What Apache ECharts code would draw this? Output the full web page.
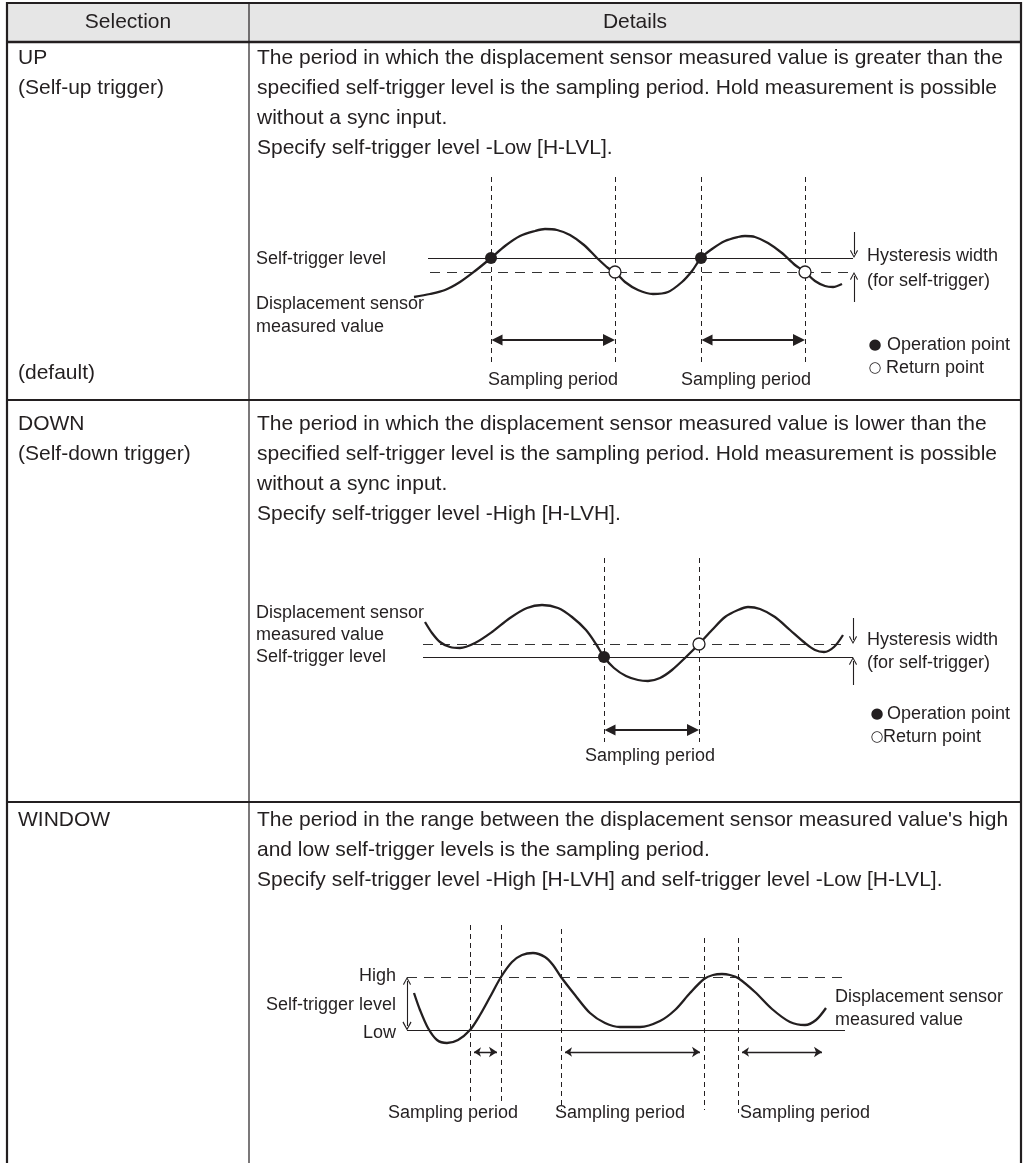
<!DOCTYPE html>
<html>
<head>
<meta charset="utf-8">
<script src="https://cdn.jsdelivr.net/npm/echarts@6/dist/echarts.min.js"></script>
<style>
html,body{margin:0;padding:0;background:#fff;}
#chart{width:1024px;height:1163px;}
</style>
</head>
<body>
<div id="chart"></div>
<script>
// ---------------- text content ----------------
const headers = ['Selection', 'Details'];
const upSelection = ['UP', '(Self-up trigger)'];
const upNote = '(default)';
const upDetails = [
  'The period in which the displacement sensor measured value is greater than the',
  'specified self-trigger level is the sampling period. Hold measurement is possible',
  'without a sync input.',
  'Specify self-trigger level -Low [H-LVL].'
];
const downSelection = ['DOWN', '(Self-down trigger)'];
const downDetails = [
  'The period in which the displacement sensor measured value is lower than the',
  'specified self-trigger level is the sampling period. Hold measurement is possible',
  'without a sync input.',
  'Specify self-trigger level -High [H-LVH].'
];
const windowSelection = ['WINDOW'];
const windowDetails = [
  "The period in the range between the displacement sensor measured value's high",
  'and low self-trigger levels is the sampling period.',
  'Specify self-trigger level -High [H-LVH] and self-trigger level -Low [H-LVL].'
];
const labelSelfTrigger = 'Self-trigger level';
const labelSensor = ['Displacement sensor', 'measured value'];
const labelHysteresis = ['Hysteresis width', '(for self-trigger)'];
const labelSampling = 'Sampling period';
const legendGlyphs = ['\u25CF', '\u25CB'];
const legendLabels = ['Operation point', 'Return point'];
const labelHigh = 'High';
const labelLow = 'Low';

// ---------------- diagram data (x: time, y: level) ----------------
// UP diagram
const upCurve = [[14,103],[30,106],[45,110],[60,118],[75,129],[91,142],[105,154],[120,164],[135,169],[145,171],[157,170],[170,165],[184,155],[197,142],[208,132],[215,128],[225,118],[238,110],[253,106],[268,108],[282,118],[292,129],[301,142],[312,151],[325,159],[338,163],[345,164],[355,163],[368,157],[382,147],[395,135],[405,128],[415,119],[425,114],[433,113],[442,116]];
const upLevel = 142;          // self-trigger level
const upHysteresis = 128;     // level minus hysteresis
const upLevelSpan = [28, 453];
const upHystSpan = [30, 450];
const upOperation = [[91,142],[301,142]];
const upReturn = [[215,128],[405,128]];
const upSampling = [[91,215],[301,405]];

// DOWN diagram
const downCurve = [[25,158],[32,147],[40,138],[50,133],[60,132],[75,137],[92,148],[110,162],[127,172],[142,175],[158,172],[172,163],[186,150],[196,136],[204,123],[214,112],[226,104],[238,100],[248,99],[260,102],[272,110],[286,123],[299,136],[312,150],[325,163],[338,170],[348,173],[360,171],[375,163],[390,150],[405,137],[415,130],[424,128],[434,133],[443,145]];
const downLevel = 123;
const downHysteresis = 136;
const downLevelSpan = [23, 453];
const downHystSpan = [23, 447];
const downOperation = [[204,123]];
const downReturn = [[299,136]];
const downSampling = [[204,299]];

// WINDOW diagram
const windowCurve = [[14,147],[20,130],[28,112],[37,100],[47,97],[58,100],[70,110],[80,125],[90,143],[101,163],[112,178],[122,185],[133,187],[145,183],[153,175],[161,163],[175,145],[190,127],[205,117],[220,113],[240,113],[260,119],[275,130],[290,147],[304,161],[313,165],[322,166],[330,165],[338,162],[355,148],[372,131],[390,118],[405,115],[416,120],[426,132]];
const windowHigh = 163;
const windowLow = 110;
const windowHighSpan = [7, 443];
const windowLowSpan = [7, 445];
const windowGuides = [70, 101, 161, 304, 338];
const windowSampling = [[70,101],[161,304],[338,426]];

// ---------------- layout ----------------
const INK = '#231f20';
const FONT = "'Liberation Sans', Arial, Helvetica, sans-serif";
const SYMFONT = "'DejaVu Sans', sans-serif";
const BODY = 21, SMALL = 18, LINE = 30;
const X_LEFT = 7, X_RIGHT = 1021, X_COL = 249, Y_TOP = 3, Y_HEAD = 42, Y_ROW1 = 400, Y_ROW2 = 802, Y_END = 1163;
const SEL_X = 18, DET_X = 257;
const ROW_Y = [58, 424, 820];

const grids = [
  {left: 400, top: 160, width: 480, height: 240},
  {left: 400, top: 540, width: 480, height: 240},
  {left: 400, top: 910, width: 480, height: 230}
];

const CHEVRON = 'path://M5,0 L10,9 L8.9,10 L5,2.4 L1.1,10 L0,9 Z';

function txt(x, y, s, size, align, font) {
  return {type: 'text', silent: true, z: 20, style: {
    text: s, x: x, y: y, font: size + 'px ' + (font || FONT), fill: INK,
    textAlign: align || 'left', textVerticalAlign: 'middle',
    align: align || 'left', verticalAlign: 'middle'}};
}
function hl(x1, x2, y, w) { return {type: 'line', silent: true, z: 15, shape: {x1: x1, y1: y, x2: x2, y2: y}, style: {stroke: INK, lineWidth: w}}; }
function vl(x, y1, y2, w) { return {type: 'line', silent: true, z: 15, shape: {x1: x, y1: y1, x2: x, y2: y2}, style: {stroke: INK, lineWidth: w}}; }

// shorten a segment so that an end symbol's tip lands on the end point
function trim(seg, a, b) {
  const [p, q] = seg;
  const dx = q[0] - p[0], dy = q[1] - p[1];
  const len = Math.hypot(dx, dy);
  const ux = dx / len, uy = dy / len;
  return [[p[0] + ux * a, p[1] + uy * a], [q[0] - ux * b, q[1] - uy * b]];
}

function linesSeries(gi, segs, opts) {
  return Object.assign({
    type: 'lines', coordinateSystem: 'cartesian2d', xAxisIndex: gi, yAxisIndex: gi,
    polyline: false, silent: true, animation: false, z: 2,
    symbol: ['none', 'none'], symbolSize: 10,
    lineStyle: {color: INK, width: 1, opacity: 1, curveness: 0},
    data: segs.map(c => ({coords: c}))
  }, opts);
}

function curveSeries(gi, data) {
  return {type: 'line', xAxisIndex: gi, yAxisIndex: gi, data: data, smooth: 0.3,
    showSymbol: false, symbol: 'none', silent: true, animation: false, z: 3,
    lineStyle: {color: INK, width: 2.3}};
}
function dotSeries(gi, data, filled) {
  return {type: 'scatter', xAxisIndex: gi, yAxisIndex: gi, data: data, symbol: 'circle',
    symbolSize: 12, silent: true, animation: false, z: 6,
    itemStyle: filled ? {color: INK, opacity: 1} : {color: '#fff', borderColor: INK, borderWidth: 1.3, opacity: 1}};
}

const VDASH = [5, 4];
const HDASH = [10, 7];
const SOLID = {color: INK, width: 1.2, opacity: 1};
const DASHED_H = {color: '#333333', width: 1.2, opacity: 1, type: HDASH};
const DASHED_V = {color: INK, width: 1, opacity: 1, type: VDASH};

// vertical guide lines sit at the operation / return times
const upGuides = [upOperation[0][0], upReturn[0][0], upOperation[1][0], upReturn[1][0]];
const downGuides = [downOperation[0][0], downReturn[0][0]];
const windowGuideTop = [215, 215, 211, 202, 202];
const windowGuideBottom = [38, 38, 30, 30, 27];

const series = [];
// ---- UP ----
series.push(linesSeries(0, upGuides.map(x => [[x, 223], [x, 34]]), {lineStyle: DASHED_V}));
series.push(linesSeries(0, [[[upLevelSpan[0], upLevel], [upLevelSpan[1], upLevel]]], {lineStyle: SOLID}));
series.push(linesSeries(0, [[[upHystSpan[0], upHysteresis], [upHystSpan[1], upHysteresis]]], {lineStyle: DASHED_H}));
series.push(curveSeries(0, upCurve));
series.push(linesSeries(0, upSampling.map(s => trim([[s[0], 60], [s[1], 60]], 6, 6)), {symbol: ['triangle', 'triangle'], symbolSize: [11, 12], lineStyle: {color: INK, width: 2, opacity: 1}, z: 4}));
series.push(linesSeries(0, [trim([[454, 168], [454, upLevel]], 0, 4), trim([[454, 98], [454, upHysteresis]], 0, 4)], {symbol: ['none', CHEVRON], symbolSize: [9, 8], lineStyle: {color: INK, width: 1.1, opacity: 1}}));
series.push(dotSeries(0, upOperation, true));
series.push(dotSeries(0, upReturn, false));

// ---- DOWN ----
series.push(linesSeries(1, downGuides.map(x => [[x, 222], [x, 38]]), {lineStyle: DASHED_V}));
series.push(linesSeries(1, [[[downLevelSpan[0], downLevel], [downLevelSpan[1], downLevel]]], {lineStyle: SOLID}));
series.push(linesSeries(1, [[[downHystSpan[0], downHysteresis], [downHystSpan[1], downHysteresis]]], {lineStyle: DASHED_H}));
series.push(curveSeries(1, downCurve));
series.push(linesSeries(1, downSampling.map(s => trim([[s[0], 50], [s[1], 50]], 6, 6)), {symbol: ['triangle', 'triangle'], symbolSize: [11, 12], lineStyle: {color: INK, width: 2, opacity: 1}, z: 4}));
series.push(linesSeries(1, [trim([[453, 162], [453, downHysteresis]], 0, 4), trim([[453, 95], [453, downLevel]], 0, 4)], {symbol: ['none', CHEVRON], symbolSize: [9, 8], lineStyle: {color: INK, width: 1.1, opacity: 1}}));
series.push(dotSeries(1, downOperation, true));
series.push(dotSeries(1, downReturn, false));

// ---- WINDOW ----
series.push(linesSeries(2, windowGuides.map((x, i) => [[x, windowGuideTop[i]], [x, windowGuideBottom[i]]]), {lineStyle: DASHED_V}));
series.push(linesSeries(2, [[[windowLowSpan[0], windowLow], [windowLowSpan[1], windowLow]]], {lineStyle: SOLID}));
series.push(linesSeries(2, [[[windowHighSpan[0], windowHigh], [windowHighSpan[1], windowHigh]]], {lineStyle: DASHED_H}));
series.push(curveSeries(2, windowCurve));
series.push(linesSeries(2, windowSampling.map(s => trim([[s[0], 88], [s[1], 88]], 4, 4)), {symbol: ['arrow', 'arrow'], symbolSize: [7, 8], lineStyle: {color: INK, width: 1.3, opacity: 1}, z: 4}));
series.push(linesSeries(2, [trim([[7, windowLow], [7, windowHigh]], 4, 4)], {symbol: [CHEVRON, CHEVRON], symbolSize: [9, 8], lineStyle: {color: INK, width: 1.1, opacity: 1}}));

// ---------------- graphic: table + texts ----------------
const g = [];
g.push({type: 'rect', silent: true, z: 1, shape: {x: X_LEFT, y: Y_TOP, width: X_RIGHT - X_LEFT, height: Y_HEAD - Y_TOP}, style: {fill: '#e6e6e6'}});
g.push(vl(X_LEFT, Y_TOP - 1, Y_END, 2.2));
g.push(vl(X_RIGHT, Y_TOP - 1, Y_END, 2.2));
g.push(vl(X_COL, Y_TOP, Y_END, 1.2));
g.push(hl(X_LEFT, X_RIGHT, Y_TOP, 2.2));
g.push(hl(X_LEFT, X_RIGHT, Y_HEAD, 2.5));
g.push(hl(X_LEFT, X_RIGHT, Y_ROW1, 2));
g.push(hl(X_LEFT, X_RIGHT, Y_ROW2, 2));
g.push(txt((X_LEFT + X_COL) / 2, 22, headers[0], BODY, 'center'));
g.push(txt((X_COL + X_RIGHT) / 2, 22, headers[1], BODY, 'center'));

function rowText(y0, sel, det) {
  sel.forEach((s, i) => g.push(txt(SEL_X, y0 + i * LINE, s, BODY)));
  det.forEach((s, i) => g.push(txt(DET_X, y0 + i * LINE, s, BODY)));
}
rowText(ROW_Y[0], upSelection, upDetails);
g.push(txt(SEL_X, 373, upNote, BODY));
rowText(ROW_Y[1], downSelection, downDetails);
rowText(ROW_Y[2], windowSelection, windowDetails);

function legend(gx, tx1, tx2, y1, y2) {
  g.push(txt(gx, y1, legendGlyphs[0], 15, 'center', SYMFONT));
  g.push(txt(tx1, y1, legendLabels[0], SMALL));
  g.push(txt(gx, y2, legendGlyphs[1], 15, 'center', SYMFONT));
  g.push(txt(tx2, y2, legendLabels[1], SMALL));
}

// UP diagram labels
g.push(txt(256, 259, labelSelfTrigger, SMALL));
g.push(txt(256, 304, labelSensor[0], SMALL));
g.push(txt(256, 327, labelSensor[1], SMALL));
g.push(txt(867, 256, labelHysteresis[0], SMALL));
g.push(txt(867, 281, labelHysteresis[1], SMALL));
g.push(txt(553, 380, labelSampling, SMALL, 'center'));
g.push(txt(746, 380, labelSampling, SMALL, 'center'));
legend(875, 887, 886, 345, 368);

// DOWN diagram labels
g.push(txt(256, 613, labelSensor[0], SMALL));
g.push(txt(256, 635, labelSensor[1], SMALL));
g.push(txt(256, 657, labelSelfTrigger, SMALL));
g.push(txt(867, 640, labelHysteresis[0], SMALL));
g.push(txt(867, 663, labelHysteresis[1], SMALL));
g.push(txt(650, 756, labelSampling, SMALL, 'center'));
legend(877, 887, 883, 714, 737);

// WINDOW diagram labels
g.push(txt(396, 976, labelHigh, SMALL, 'right'));
g.push(txt(396, 1005, labelSelfTrigger, SMALL, 'right'));
g.push(txt(396, 1033, labelLow, SMALL, 'right'));
g.push(txt(835, 997, labelSensor[0], SMALL));
g.push(txt(835, 1020, labelSensor[1], SMALL));
g.push(txt(453, 1113, labelSampling, SMALL, 'center'));
g.push(txt(620, 1113, labelSampling, SMALL, 'center'));
g.push(txt(805, 1113, labelSampling, SMALL, 'center'));

const chart = echarts.init(document.getElementById('chart'), null, {renderer: 'canvas'});
chart.setOption({
  animation: false,
  backgroundColor: '#ffffff',
  grid: grids.map(gr => Object.assign({containLabel: false}, gr)),
  xAxis: grids.map((gr, i) => ({type: 'value', gridIndex: i, min: 0, max: gr.width, show: false})),
  yAxis: grids.map((gr, i) => ({type: 'value', gridIndex: i, min: 0, max: gr.height, show: false})),
  series: series,
  graphic: g
});
</script>
</body>
</html>
